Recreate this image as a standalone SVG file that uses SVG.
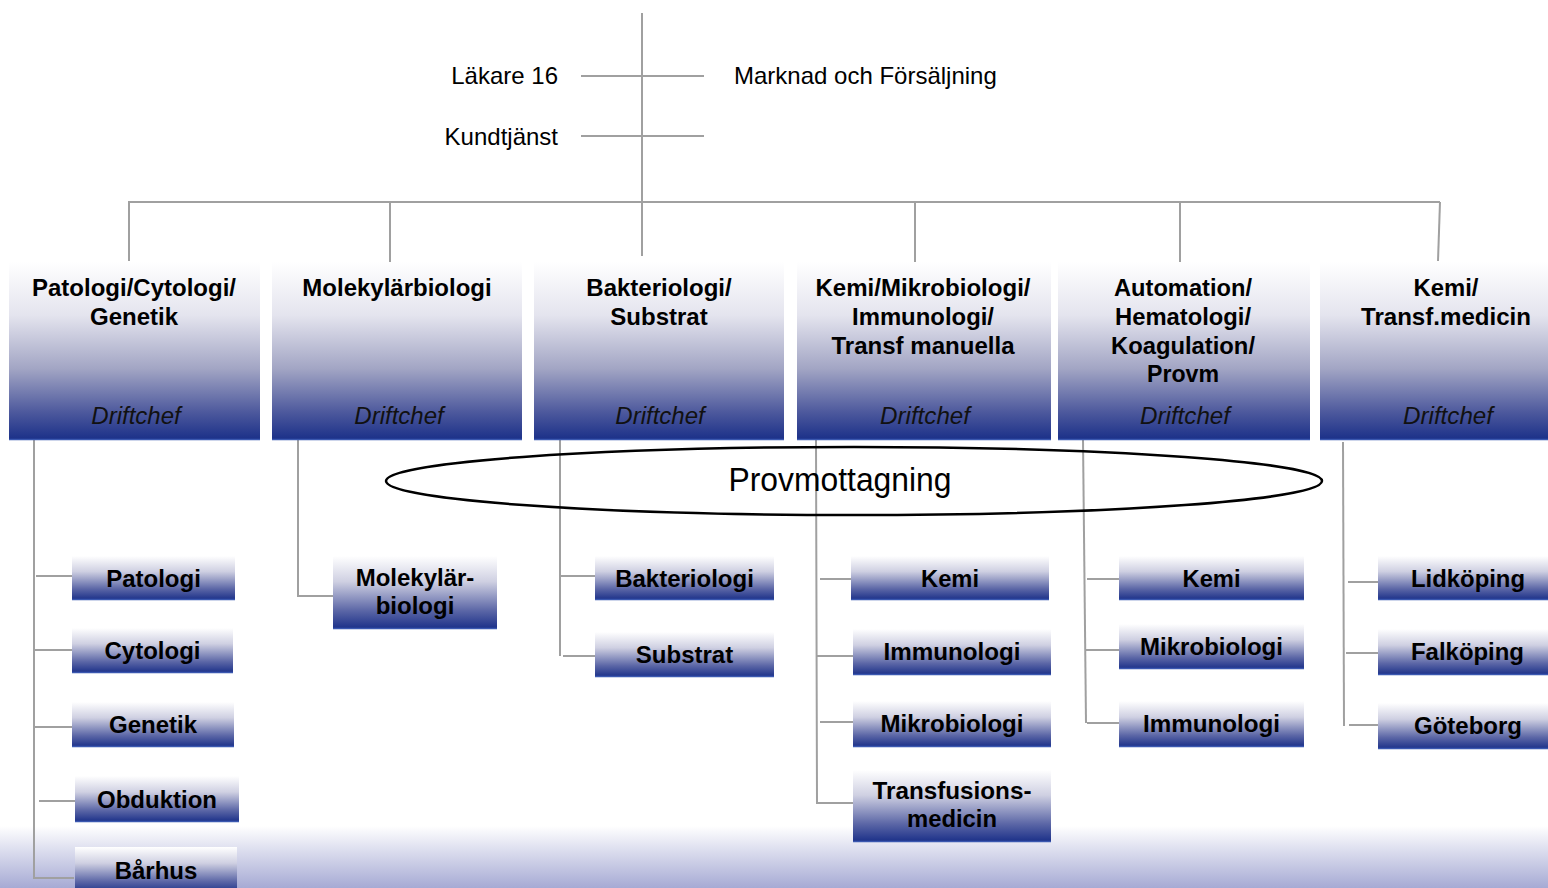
<svg xmlns="http://www.w3.org/2000/svg" width="1548" height="888" viewBox="0 0 1548 888">
<defs>
<linearGradient id="gTop" x1="0" y1="0" x2="0" y2="1">
<stop offset="0" stop-color="#ffffff"/>
<stop offset="0.3" stop-color="#e4e4ee"/>
<stop offset="0.6" stop-color="#a2a5c4"/>
<stop offset="0.85" stop-color="#4b579c"/>
<stop offset="1" stop-color="#1a2f88"/>
</linearGradient>
<linearGradient id="gSub" x1="0" y1="0" x2="0" y2="1">
<stop offset="0" stop-color="#ffffff"/>
<stop offset="0.35" stop-color="#cfd0e2"/>
<stop offset="0.75" stop-color="#5b66a6"/>
<stop offset="1" stop-color="#1a2f88"/>
</linearGradient>
<linearGradient id="gBg" x1="0" y1="0" x2="0" y2="1">
<stop offset="0" stop-color="#ffffff"/>
<stop offset="1" stop-color="#a6aad4"/>
</linearGradient>
<style>
.ln{stroke:#a0a0a0;stroke-width:2;fill:none}
.top{fill:url(#gTop)}
.sub{fill:url(#gSub)}
.edge{stroke:#3b58b0;stroke-width:1.5}
.t{font-family:"Liberation Sans",Arial,sans-serif;font-size:24px;fill:#000}
.big{font-family:"Liberation Sans",Arial,sans-serif;font-size:34px;fill:#000;text-anchor:middle}
.b{font-family:"Liberation Sans",Arial,sans-serif;font-size:24px;font-weight:bold;fill:#000;text-anchor:middle}
.i{font-family:"Liberation Sans",Arial,sans-serif;font-size:24px;font-style:italic;fill:#111;text-anchor:middle}
</style>
</defs>
<rect x="0" y="826" width="1548" height="62" fill="url(#gBg)"/>

<g id="connectors">
<line class="ln" x1="642" y1="13" x2="642" y2="256"/>
<line class="ln" x1="581" y1="76" x2="704" y2="76"/>
<line class="ln" x1="581" y1="136" x2="704" y2="136"/>
<line class="ln" x1="129" y1="202" x2="1440" y2="202" stroke-width="3"/>
<line class="ln" x1="129" y1="201" x2="129" y2="261"/>
<line class="ln" x1="390" y1="202" x2="390" y2="263"/>
<line class="ln" x1="915" y1="202" x2="915" y2="262"/>
<line class="ln" x1="1180" y1="202" x2="1180" y2="263"/>
<line class="ln" x1="1440" y1="202" x2="1438" y2="261"/>
<polyline class="ln" points="34,440 34,878 74,878"/>
<line class="ln" x1="36" y1="576" x2="72" y2="576"/>
<line class="ln" x1="35" y1="650" x2="72" y2="650"/>
<line class="ln" x1="35" y1="727" x2="72" y2="727"/>
<line class="ln" x1="39" y1="801" x2="75" y2="801"/>
<polyline class="ln" points="298,440 298,596 333,596"/>
<line class="ln" x1="560" y1="440" x2="560" y2="656"/>
<line class="ln" x1="561" y1="576" x2="595" y2="576"/>
<line class="ln" x1="563" y1="656" x2="595" y2="656"/>
<polyline class="ln" points="816,440 817,803 853,803"/>
<line class="ln" x1="820" y1="579" x2="851" y2="579"/>
<line class="ln" x1="817" y1="656" x2="853" y2="656"/>
<line class="ln" x1="820" y1="722" x2="853" y2="722"/>
<line class="ln" x1="1083" y1="440" x2="1086" y2="723"/>
<line class="ln" x1="1087" y1="579" x2="1119" y2="579"/>
<line class="ln" x1="1086" y1="650" x2="1119" y2="650"/>
<line class="ln" x1="1087" y1="723" x2="1119" y2="723"/>
<line class="ln" x1="1343" y1="442" x2="1344" y2="726"/>
<line class="ln" x1="1348" y1="582" x2="1378" y2="582"/>
<line class="ln" x1="1346" y1="653" x2="1378" y2="653"/>
<line class="ln" x1="1349" y1="725" x2="1378" y2="725"/>
</g>

<g id="lakare"><text class="t" x="558" y="84" text-anchor="end">Läkare 16</text></g>
<g id="kundtjanst"><text class="t" x="558" y="145" text-anchor="end">Kundtjänst</text></g>
<g id="marknad"><text class="t" x="734" y="84">Marknad och Försäljning</text></g>

<g id="box-patologi">
<rect class="top" x="9" y="262" width="251" height="178"/>
<line class="edge" x1="9" y1="439.5" x2="260" y2="439.5"/>
<text class="b" x="134" y="296">Patologi/Cytologi/</text>
<text class="b" x="134" y="325">Genetik</text>
<text class="i" x="136" y="424">Driftchef</text>
</g>
<g id="box-molekylar">
<rect class="top" x="272" y="262" width="250" height="178"/>
<line class="edge" x1="272" y1="439.5" x2="522" y2="439.5"/>
<text class="b" x="397" y="296">Molekylärbiologi</text>
<text class="i" x="399" y="424">Driftchef</text>
</g>
<g id="box-bakteriologi">
<rect class="top" x="534" y="262" width="250" height="178"/>
<line class="edge" x1="534" y1="439.5" x2="784" y2="439.5"/>
<text class="b" x="659" y="296">Bakteriologi/</text>
<text class="b" x="659" y="325">Substrat</text>
<text class="i" x="660" y="424">Driftchef</text>
</g>
<g id="box-kemi">
<rect class="top" x="797" y="262" width="254" height="178"/>
<line class="edge" x1="797" y1="439.5" x2="1051" y2="439.5"/>
<text class="b" x="923" y="296" textLength="215" lengthAdjust="spacingAndGlyphs">Kemi/Mikrobiologi/</text>
<text class="b" x="923" y="325" textLength="142" lengthAdjust="spacingAndGlyphs">Immunologi/</text>
<text class="b" x="923" y="354" textLength="183" lengthAdjust="spacingAndGlyphs">Transf manuella</text>
<text class="i" x="925" y="424" textLength="90" lengthAdjust="spacingAndGlyphs">Driftchef</text>
</g>
<g id="box-automation">
<rect class="top" x="1058" y="262" width="252" height="178"/>
<line class="edge" x1="1058" y1="439.5" x2="1310" y2="439.5"/>
<text class="b" x="1183" y="296" textLength="138" lengthAdjust="spacingAndGlyphs">Automation/</text>
<text class="b" x="1183" y="325" textLength="136" lengthAdjust="spacingAndGlyphs">Hematologi/</text>
<text class="b" x="1183" y="354" textLength="144" lengthAdjust="spacingAndGlyphs">Koagulation/</text>
<text class="b" x="1183" y="382" textLength="72" lengthAdjust="spacingAndGlyphs">Provm</text>
<text class="i" x="1185" y="424" textLength="90" lengthAdjust="spacingAndGlyphs">Driftchef</text>
</g>
<g id="box-transf">
<rect class="top" x="1320" y="262" width="228" height="178"/>
<line class="edge" x1="1320" y1="439.5" x2="1548" y2="439.5"/>
<text class="b" x="1446" y="296" textLength="65" lengthAdjust="spacingAndGlyphs">Kemi/</text>
<text class="b" x="1446" y="325" textLength="170" lengthAdjust="spacingAndGlyphs">Transf.medicin</text>
<text class="i" x="1448" y="424" textLength="90" lengthAdjust="spacingAndGlyphs">Driftchef</text>
</g>

<g id="provmottagning">
<ellipse cx="854" cy="481" rx="468" ry="34" fill="none" stroke="#000" stroke-width="2.5"/>
<text class="big" x="840" y="491" textLength="223" lengthAdjust="spacingAndGlyphs">Provmottagning</text>
</g>

<g id="sub-patologi"><rect class="sub" x="72" y="556" width="163" height="44"/><line class="edge" x1="72" y1="599.5" x2="235" y2="599.5"/><text class="b" x="153.5" y="586.5">Patologi</text></g>
<g id="sub-cytologi"><rect class="sub" x="72" y="628" width="161" height="45"/><line class="edge" x1="72" y1="672.5" x2="233" y2="672.5"/><text class="b" x="152.5" y="659">Cytologi</text></g>
<g id="sub-genetik"><rect class="sub" x="72" y="702" width="162" height="45"/><line class="edge" x1="72" y1="746.5" x2="234" y2="746.5"/><text class="b" x="153" y="733">Genetik</text></g>
<g id="sub-obduktion"><rect class="sub" x="75" y="776" width="164" height="46"/><line class="edge" x1="75" y1="821.5" x2="239" y2="821.5"/><text class="b" x="157" y="807.5">Obduktion</text></g>
<g id="sub-barhus"><rect class="sub" x="75" y="847" width="162" height="46"/><text class="b" x="156" y="879">Bårhus</text></g>

<g id="sub-molekylar"><rect class="sub" x="333" y="556" width="164" height="73"/><line class="edge" x1="333" y1="628.5" x2="497" y2="628.5"/><text class="b" x="415" y="586">Molekylär-</text><text class="b" x="415" y="614">biologi</text></g>

<g id="sub-bakteriologi"><rect class="sub" x="595" y="556" width="179" height="44"/><line class="edge" x1="595" y1="599.5" x2="774" y2="599.5"/><text class="b" x="684.5" y="586.5">Bakteriologi</text></g>
<g id="sub-substrat"><rect class="sub" x="595" y="632" width="179" height="45"/><line class="edge" x1="595" y1="676.5" x2="774" y2="676.5"/><text class="b" x="684.5" y="663">Substrat</text></g>

<g id="sub-kemi1"><rect class="sub" x="851" y="556" width="198" height="44"/><line class="edge" x1="851" y1="599.5" x2="1049" y2="599.5"/><text class="b" x="950" y="586.5" textLength="58" lengthAdjust="spacingAndGlyphs">Kemi</text></g>
<g id="sub-immunologi1"><rect class="sub" x="853" y="629" width="198" height="46"/><line class="edge" x1="853" y1="674.5" x2="1051" y2="674.5"/><text class="b" x="952" y="660" textLength="137" lengthAdjust="spacingAndGlyphs">Immunologi</text></g>
<g id="sub-mikrobiologi1"><rect class="sub" x="853" y="701" width="198" height="46"/><line class="edge" x1="853" y1="746.5" x2="1051" y2="746.5"/><text class="b" x="952" y="732" textLength="143" lengthAdjust="spacingAndGlyphs">Mikrobiologi</text></g>
<g id="sub-transfusion"><rect class="sub" x="853" y="770" width="198" height="72"/><line class="edge" x1="853" y1="841.5" x2="1051" y2="841.5"/><text class="b" x="952" y="799" textLength="159" lengthAdjust="spacingAndGlyphs">Transfusions-</text><text class="b" x="952" y="827" textLength="90" lengthAdjust="spacingAndGlyphs">medicin</text></g>

<g id="sub-kemi2"><rect class="sub" x="1119" y="556" width="185" height="44"/><line class="edge" x1="1119" y1="599.5" x2="1304" y2="599.5"/><text class="b" x="1211.5" y="586.5" textLength="58" lengthAdjust="spacingAndGlyphs">Kemi</text></g>
<g id="sub-mikrobiologi2"><rect class="sub" x="1119" y="624" width="185" height="45"/><line class="edge" x1="1119" y1="668.5" x2="1304" y2="668.5"/><text class="b" x="1211.5" y="655" textLength="143" lengthAdjust="spacingAndGlyphs">Mikrobiologi</text></g>
<g id="sub-immunologi2"><rect class="sub" x="1119" y="701" width="185" height="46"/><line class="edge" x1="1119" y1="746.5" x2="1304" y2="746.5"/><text class="b" x="1211.5" y="732" textLength="137" lengthAdjust="spacingAndGlyphs">Immunologi</text></g>

<g id="sub-lidkoping"><rect class="sub" x="1378" y="556" width="170" height="44"/><line class="edge" x1="1378" y1="599.5" x2="1548" y2="599.5"/><text class="b" x="1468" y="586.5" textLength="114" lengthAdjust="spacingAndGlyphs">Lidköping</text></g>
<g id="sub-falkoping"><rect class="sub" x="1378" y="629" width="170" height="46"/><line class="edge" x1="1378" y1="674.5" x2="1548" y2="674.5"/><text class="b" x="1467.5" y="660" textLength="113" lengthAdjust="spacingAndGlyphs">Falköping</text></g>
<g id="sub-goteborg"><rect class="sub" x="1378" y="703" width="170" height="46"/><line class="edge" x1="1378" y1="748.5" x2="1548" y2="748.5"/><text class="b" x="1468" y="734" textLength="108" lengthAdjust="spacingAndGlyphs">Göteborg</text></g>
</svg>
